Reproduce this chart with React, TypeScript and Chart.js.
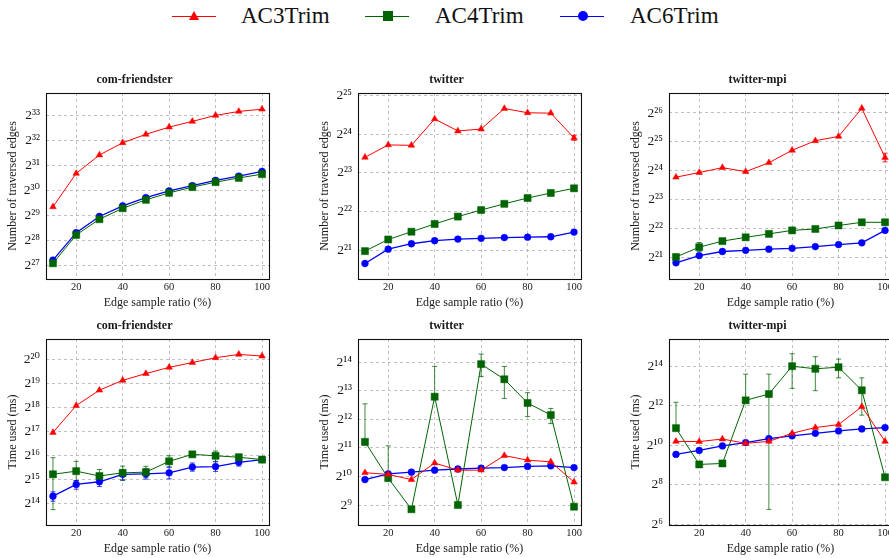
import React, { useEffect, useRef } from 'react';
import { Chart, registerables } from 'chart.js';

Chart.register(...registerables);

const FONT = "'Liberation Serif', 'Times New Roman', 'DejaVu Serif', serif";

// ---------- data (values are log2 of the measured quantity) ----------
const ratios = [10, 20, 30, 40, 50, 60, 70, 80, 90, 100];
const seriesNames = ['AC3Trim', 'AC4Trim', 'AC6Trim'];
const xTicks = [20, 40, 60, 80, 100];
const edgesLabel = 'Number of traversed edges';
const timeLabel = 'Time used (ms)';
const xLabel = 'Edge sample ratio (%)';
const titles = ['com-friendster', 'twitter', 'twitter-mpi'];

// Number of traversed edges (log2)
const friendsterEdgesAC3 = [29.34, 30.68, 31.42, 31.91, 32.25, 32.54, 32.77, 33.01, 33.17, 33.26];
const friendsterEdgesAC4 = [27.07, 28.21, 28.84, 29.28, 29.62, 29.9, 30.13, 30.33, 30.5, 30.65];
const friendsterEdgesAC6 = [27.2, 28.3, 28.95, 29.38, 29.71, 29.98, 30.19, 30.4, 30.57, 30.76];

const twitterEdgesAC3 = [23.4, 23.72, 23.71, 24.39, 24.08, 24.13, 24.66, 24.55, 24.54, 23.9];
const twitterEdgesAC4 = [20.98, 21.28, 21.48, 21.68, 21.87, 22.04, 22.2, 22.35, 22.48, 22.6];
const twitterEdgesAC6 = [20.66, 21.03, 21.17, 21.25, 21.29, 21.31, 21.33, 21.34, 21.35, 21.47];
const twitterEdgesAC3Lo = [null, null, null, null, null, null, null, null, null, 23.84];
const twitterEdgesAC3Hi = [null, null, null, null, null, null, null, null, null, 23.96];

const mpiEdgesAC3 = [23.78, 23.94, 24.11, 23.97, 24.28, 24.71, 25.04, 25.19, 26.16, 24.46];
const mpiEdgesAC4 = [21.02, 21.36, 21.57, 21.7, 21.82, 21.94, 21.99, 22.11, 22.22, 22.22];
const mpiEdgesAC6 = [20.82, 21.07, 21.21, 21.25, 21.29, 21.32, 21.38, 21.45, 21.51, 21.94];
const mpiEdgesAC3Lo = [null, null, null, null, null, null, null, null, null, 24.31];
const mpiEdgesAC3Hi = [null, null, null, null, null, null, null, null, null, 24.61];
const mpiEdgesAC4Lo = [null, 21.22, null, null, null, null, null, null, null, null];
const mpiEdgesAC4Hi = [null, 21.52, null, null, null, null, null, null, null, null];

// Time used in ms (log2)
const friendsterTimeAC3 = [16.97, 18.09, 18.73, 19.14, 19.42, 19.68, 19.88, 20.08, 20.22, 20.15];
const friendsterTimeAC4 = [15.23, 15.36, 15.16, 15.29, 15.32, 15.77, 16.06, 16.0, 15.94, 15.84];
const friendsterTimeAC4Lo = [13.76, 14.97, 14.9, 14.97, 15.09, 15.53, 15.95, 15.77, 15.78, 15.75];
const friendsterTimeAC4Hi = [15.92, 15.77, 15.43, 15.57, 15.56, 16.0, 16.16, 16.2, 16.06, 15.93];
const friendsterTimeAC6 = [14.32, 14.81, 14.92, 15.23, 15.25, 15.29, 15.53, 15.55, 15.73, 15.84];
const friendsterTimeAC6Lo = [14.11, 14.61, 14.72, 15.0, 15.03, 15.04, 15.36, 15.35, 15.57, 15.73];
const friendsterTimeAC6Hi = [14.5, 14.97, 15.09, 15.42, 15.46, 15.53, 15.7, 15.75, 15.87, 15.95];

const twitterTimeAC3 = [10.13, 10.07, 9.89, 10.47, 10.22, 10.22, 10.73, 10.57, 10.51, 9.8];
const twitterTimeAC4 = [11.21, 9.94, 8.85, 12.79, 9.0, 13.93, 13.4, 12.57, 12.15, 8.94];
const twitterTimeAC4Lo = [11.1, 9.85, null, 12.7, null, 13.5, 12.73, 12.1, 11.85, null];
const twitterTimeAC4Hi = [12.54, 11.07, null, 13.85, null, 14.28, 13.85, 12.93, 12.38, null];
const twitterTimeAC6 = [9.89, 10.09, 10.15, 10.22, 10.26, 10.29, 10.31, 10.35, 10.37, 10.31];

const mpiTimeAC3 = [10.2, 10.19, 10.32, 10.1, 10.2, 10.61, 10.9, 11.05, 11.96, 10.2];
const mpiTimeAC4 = [10.87, 9.03, 9.08, 12.28, 12.6, 14.01, 13.88, 13.96, 12.79, 8.38];
const mpiTimeAC4Lo = [10.8, null, null, 12.2, 6.75, 12.89, 12.77, 13.42, 11.53, null];
const mpiTimeAC4Hi = [12.18, null, null, 13.61, 13.61, 14.64, 14.49, 14.37, 13.42, null];
const mpiTimeAC6 = [9.54, 9.74, 9.97, 10.14, 10.34, 10.48, 10.61, 10.73, 10.83, 10.9];

// y tick exponents
const friendsterEdgeTicks = [27, 28, 29, 30, 31, 32, 33];
const twitterEdgeTicks = [21, 22, 23, 24, 25];
const mpiEdgeTicks = [21, 22, 23, 24, 25, 26];
const friendsterTimeTicks = [14, 15, 16, 17, 18, 19, 20];
const twitterTimeTicks = [9, 10, 11, 12, 13, 14];
const mpiTimeTicks = [6, 8, 10, 12, 14];

// ---------- styling ----------
const COLORS = ['#ff0000', '#006400', '#0000ff'];
const ERR_COLORS = ['rgba(255,0,0,0.85)', 'rgba(0,100,0,0.75)', 'rgba(0,0,255,0.75)'];
const POINT_STYLES = ['triangle', 'rect', 'circle'];
const POINT_RADII = [3.8, 5, 3.4];
const LINE_WIDTHS = [1, 1, 1.3];

const SUP = ['⁰', '¹', '²', '³', '⁴', '⁵', '⁶', '⁷', '⁸', '⁹'];
const pow2Label = (v: number) => '2' + String(v).split('').map((c) => SUP[Number(c)]).join('');

const Y_AXIS_W = 46;
const PLOT_W = 223;
const PLOT_H = 186;
const TITLE_H = 24;
const X_AXIS_H = 34;
const RIGHT_PAD = 8;
const CANVAS_W = Y_AXIS_W + PLOT_W + RIGHT_PAD;
const CANVAS_H = TITLE_H + PLOT_H + X_AXIS_H;

type Err = { lo: (number | null)[]; hi: (number | null)[] } | null;
type PanelDef = {
  title: string;
  yLabel: string;
  yMin: number;
  yMax: number;
  yTicks: number[];
  series: number[][];
  errors: Err[];
  left: number;
  top: number;
};

const panels: PanelDef[] = [
  {
    title: titles[0], yLabel: edgesLabel, yMin: 26.44, yMax: 33.91, yTicks: friendsterEdgeTicks,
    series: [friendsterEdgesAC3, friendsterEdgesAC4, friendsterEdgesAC6],
    errors: [null, null, null], left: 0, top: 69,
  },
  {
    title: titles[1], yLabel: edgesLabel, yMin: 20.26, yMax: 25.06, yTicks: twitterEdgeTicks,
    series: [twitterEdgesAC3, twitterEdgesAC4, twitterEdgesAC6],
    errors: [{ lo: twitterEdgesAC3Lo, hi: twitterEdgesAC3Hi }, null, null], left: 312, top: 69,
  },
  {
    title: titles[2], yLabel: edgesLabel, yMin: 20.26, yMax: 26.69, yTicks: mpiEdgeTicks,
    series: [mpiEdgesAC3, mpiEdgesAC4, mpiEdgesAC6],
    errors: [{ lo: mpiEdgesAC3Lo, hi: mpiEdgesAC3Hi }, { lo: mpiEdgesAC4Lo, hi: mpiEdgesAC4Hi }, null],
    left: 623, top: 69,
  },
  {
    title: titles[0], yLabel: timeLabel, yMin: 13.12, yMax: 20.86, yTicks: friendsterTimeTicks,
    series: [friendsterTimeAC3, friendsterTimeAC4, friendsterTimeAC6],
    errors: [null, { lo: friendsterTimeAC4Lo, hi: friendsterTimeAC4Hi }, { lo: friendsterTimeAC6Lo, hi: friendsterTimeAC6Hi }],
    left: 0, top: 315,
  },
  {
    title: titles[1], yLabel: timeLabel, yMin: 8.3, yMax: 14.81, yTicks: twitterTimeTicks,
    series: [twitterTimeAC3, twitterTimeAC4, twitterTimeAC6],
    errors: [null, { lo: twitterTimeAC4Lo, hi: twitterTimeAC4Hi }, null], left: 312, top: 315,
  },
  {
    title: titles[2], yLabel: timeLabel, yMin: 5.96, yMax: 15.39, yTicks: mpiTimeTicks,
    series: [mpiTimeAC3, mpiTimeAC4, mpiTimeAC6],
    errors: [null, { lo: mpiTimeAC4Lo, hi: mpiTimeAC4Hi }, null], left: 623, top: 315,
  },
];

const errorBarPlugin = {
  id: 'errorBars',
  beforeDatasetsDraw(chart: any) {
    const { ctx } = chart;
    const xs = chart.scales.x;
    const ys = chart.scales.y;
    ctx.save();
    chart.data.datasets.forEach((ds: any) => {
      if (!ds.errLo) return;
      ctx.strokeStyle = ds.errColor;
      ctx.lineWidth = 1;
      ds.data.forEach((p: any, i: number) => {
        const lo = ds.errLo[i];
        const hi = ds.errHi[i];
        if (lo == null || hi == null) return;
        const px = xs.getPixelForValue(p.x);
        const yl = ys.getPixelForValue(lo);
        const yh = ys.getPixelForValue(hi);
        ctx.beginPath();
        ctx.moveTo(px, yl);
        ctx.lineTo(px, yh);
        ctx.moveTo(px - 2.5, yl);
        ctx.lineTo(px + 2.5, yl);
        ctx.moveTo(px - 2.5, yh);
        ctx.lineTo(px + 2.5, yh);
        ctx.stroke();
      });
    });
    ctx.restore();
  },
};

const framePlugin = {
  id: 'frame',
  afterDraw(chart: any) {
    const { ctx, chartArea } = chart;
    ctx.save();
    ctx.strokeStyle = '#111';
    ctx.lineWidth = 1.1;
    ctx.strokeRect(
      Math.round(chartArea.left) + 0.5,
      Math.round(chartArea.top) + 0.5,
      Math.round(chartArea.right - chartArea.left),
      Math.round(chartArea.bottom - chartArea.top)
    );
    ctx.restore();
  },
};

function Panel({ def }: { def: PanelDef }) {
  const ref = useRef<HTMLCanvasElement | null>(null);
  useEffect(() => {
    if (!ref.current) return;
    const datasets = def.series.map((vals, s) => {
      const err = def.errors[s];
      return {
        label: seriesNames[s],
        data: ratios.map((r, i) => ({ x: r, y: vals[i] })),
        borderColor: COLORS[s],
        backgroundColor: COLORS[s],
        borderWidth: LINE_WIDTHS[s],
        pointStyle: POINT_STYLES[s],
        pointRadius: POINT_RADII[s],
        pointBorderWidth: 0.5,
        pointBorderColor: COLORS[s],
        pointBackgroundColor: COLORS[s],
        tension: 0,
        errLo: err ? err.lo : null,
        errHi: err ? err.hi : null,
        errColor: ERR_COLORS[s],
      } as any;
    });
    const tickFont = { family: FONT, size: 10.5 };
    const chart = new Chart(ref.current, {
      type: 'line',
      data: { datasets },
      options: {
        animation: false,
        responsive: false,
        maintainAspectRatio: false,
        layout: { padding: { left: 0, top: 0, right: RIGHT_PAD, bottom: 0 } },
        plugins: {
          legend: { display: false },
          tooltip: { enabled: false },
          title: {
            display: true,
            text: def.title,
            color: '#1a1a1a',
            font: { family: FONT, size: 12, weight: 'bold' },
            padding: { top: 3.3, bottom: 6.3 },
          },
        },
        scales: {
          x: {
            type: 'linear',
            min: 7,
            max: 103,
            afterBuildTicks: (s: any) => {
              s.ticks = xTicks.map((v) => ({ value: v }));
            },
            afterFit: (s: any) => {
              s.height = X_AXIS_H;
            },
            grid: { color: '#b0b0b0', lineWidth: 0.8, drawTicks: false },
            border: { display: false, dash: [3, 3] },
            ticks: { font: tickFont, color: '#1a1a1a', padding: 1.5, maxRotation: 0, autoSkip: false },
            title: {
              display: true,
              text: xLabel,
              color: '#1a1a1a',
              font: { family: FONT, size: 12 },
              padding: { top: 0, bottom: 2.8 },
            },
          },
          y: {
            type: 'linear',
            min: def.yMin,
            max: def.yMax,
            afterBuildTicks: (s: any) => {
              s.ticks = def.yTicks.map((v) => ({ value: v }));
            },
            afterFit: (s: any) => {
              s.width = Y_AXIS_W;
            },
            grid: { color: '#b0b0b0', lineWidth: 0.8, drawTicks: false },
            border: { display: false, dash: [3, 3] },
            ticks: {
              font: { family: FONT, size: 13.5 },
              color: '#1a1a1a',
              padding: 6,
              autoSkip: false,
              callback: (v: any) => pow2Label(Number(v)),
            },
            title: {
              display: true,
              text: def.yLabel,
              color: '#1a1a1a',
              font: { family: FONT, size: 12 },
              padding: { top: 5.3, bottom: 0 },
            },
          },
        },
      } as any,
      plugins: [errorBarPlugin, framePlugin],
    });
    return () => chart.destroy();
  }, [def]);
  return (
    <canvas
      ref={ref}
      width={CANVAS_W}
      height={CANVAS_H}
      style={{ position: 'absolute', left: def.left, top: def.top, width: CANVAS_W, height: CANVAS_H }}
    />
  );
}

const legendItems = [
  { lineX: 172, markerX: 194, textX: 241 },
  { lineX: 365, markerX: 388, textX: 435 },
  { lineX: 560, markerX: 583, textX: 630 },
];

function Marker({ kind, color, cx, cy }: { kind: number; color: string; cx: number; cy: number }) {
  if (kind === 0) {
    return (
      <div
        style={{
          position: 'absolute', left: cx - 5.5, top: cy - 5, width: 0, height: 0,
          borderLeft: '5.5px solid transparent', borderRight: '5.5px solid transparent',
          borderBottom: `9px solid ${color}`,
        }}
      />
    );
  }
  if (kind === 1) {
    return <div style={{ position: 'absolute', left: cx - 5, top: cy - 5, width: 10, height: 10, background: color }} />;
  }
  return (
    <div style={{ position: 'absolute', left: cx - 5, top: cy - 5, width: 10, height: 10, borderRadius: '50%', background: color }} />
  );
}

export default function App() {
  const ly = 16;
  return (
    <div
      style={{
        position: 'fixed', left: 0, top: 0, width: 889, height: 558, overflow: 'hidden', background: '#fff',
      }}
    >
      {legendItems.map((it, s) => (
        <React.Fragment key={s}>
          <div style={{ position: 'absolute', left: it.lineX, top: ly - 0.5, width: 44, height: 0, borderTop: `1px solid ${COLORS[s]}` }} />
          <Marker kind={s} color={COLORS[s]} cx={it.markerX} cy={ly} />
          <span
            style={{
              position: 'absolute', left: it.textX, top: ly - 11.6, fontFamily: FONT, fontSize: 23, lineHeight: '23px',
              color: '#111', whiteSpace: 'nowrap',
            }}
          >
            {seriesNames[s]}
          </span>
        </React.Fragment>
      ))}
      {panels.map((p, i) => (
        <Panel key={i} def={p} />
      ))}
    </div>
  );
}
